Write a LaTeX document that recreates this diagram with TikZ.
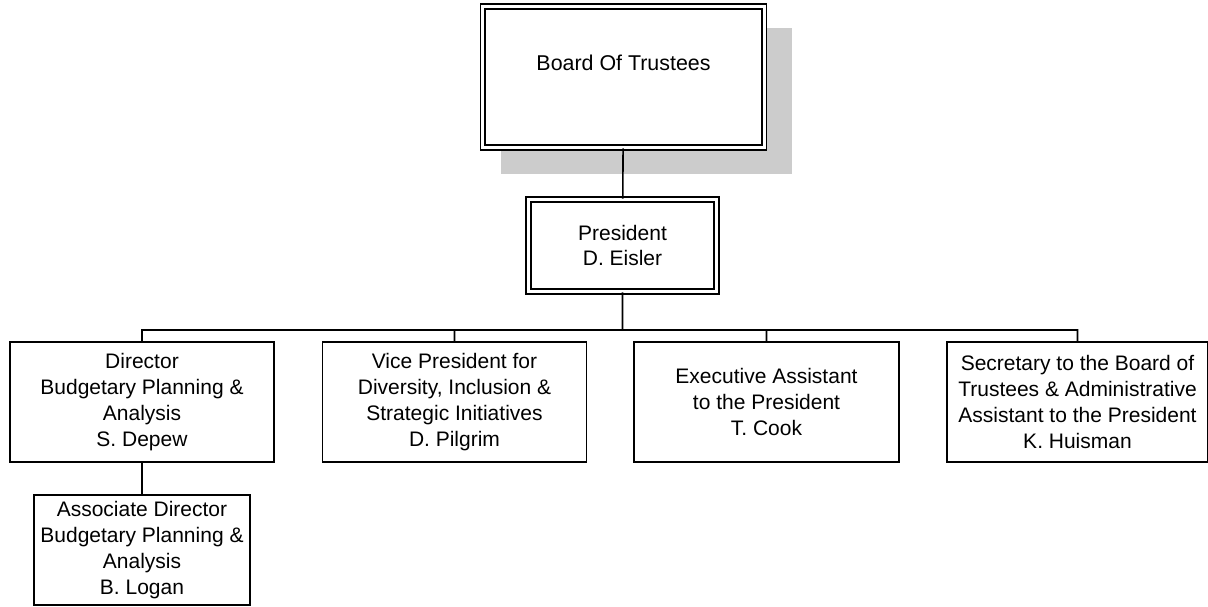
\documentclass[tikz,border=0pt]{standalone}
\usepackage{fontspec}
\setmainfont{Liberation Sans}
\usetikzlibrary{positioning}
\tikzset{
post/.style={draw, line width=.8pt, align=center, inner sep=0pt, font=\fontsize{10.5}{12.9}\selectfont}, % one box per post
head/.style={post, double, double distance=1.6pt}, % double frame for the top posts
shade/.style={fill=black!20, draw=none}, % grey shadow behind the board
link/.style={line width=.8pt}, % lines of the chart
}
\begin{document}
\begin{tikzpicture}[x=0.5pt, y=-0.5pt]
    \useasboundingbox (0,0) rectangle (1208,606);
    \fill[shade] (501,28) rectangle (792,174);
    \node[head, minimum width=140.75pt, minimum height=70.5pt, text depth=14pt, font=\fontsize{10.7}{12.9}\selectfont, fill=white] at (623.5,77) (board) {Board Of Trustees};
    \node[head, minimum width=94pt, minimum height=46pt] at (622.5,245.5) (pres) {President\\D. Eisler};
    \coordinate (bus) at (622.5,330);
    \node[post, minimum width=132pt, minimum height=60pt] at (142,402) (dir) {Director\\Budgetary Planning \&\\Analysis\\S. Depew};
    \node[post, minimum width=132pt, minimum height=60pt] at (454.5,402) (vp) {Vice President for\\Diversity, Inclusion \&\\Strategic Initiatives\\D. Pilgrim};
    \node[post, minimum width=132.5pt, minimum height=60pt] at (766.5,402) (exec) {Executive Assistant\\to the President\\T. Cook};
    \node[post, minimum width=130.5pt, minimum height=60pt] at (1077.5,402) (sec) {Secretary to the Board of\\Trustees \& Administrative\\Assistant to the President\\K. Huisman};
    \node[post, minimum width=108pt, minimum height=55pt] at (142,550) (assoc) {Associate Director\\Budgetary Planning \&\\Analysis\\B. Logan};
    \draw[link]
    (board) -- (pres)
    (pres) -- (bus)
    (dir.north) -- (dir.north |- bus) -- (sec.north |- bus) -- (sec.north)
    (vp.north) -- (vp.north |- bus)
    (exec.north) -- (exec.north |- bus)
    (dir) -- (assoc)
    ;
\end{tikzpicture}
\end{document}
